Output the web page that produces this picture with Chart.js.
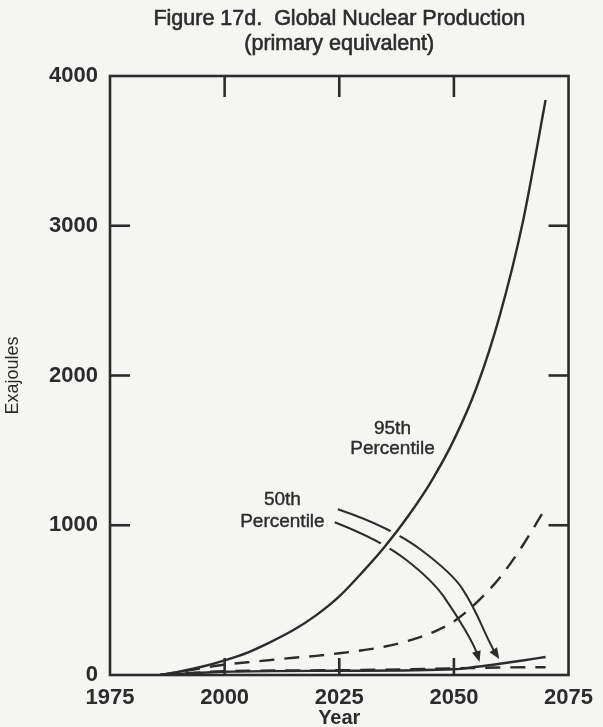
<!DOCTYPE html>
<html>
<head>
<meta charset="utf-8">
<script src="https://cdn.jsdelivr.net/npm/chart.js@4.4.1/dist/chart.umd.min.js"></script>
<style>
  html, body { margin: 0; padding: 0; background: #f5f5f3; }
  canvas { display: block; }
</style>
</head>
<body>
<canvas id="chart" width="603" height="727"></canvas>
<script>
// Global nuclear production, exajoules (primary equivalent)
const yearsUpper   = [1986, 1990, 1995, 2000, 2005, 2010, 2015, 2020, 2025, 2030, 2035, 2040, 2045, 2050, 2055, 2060, 2065, 2070];
const solidUpper   = [0, 22, 55, 98, 150, 220, 300, 400, 525, 685, 860, 1060, 1290, 1570, 1925, 2400, 3020, 3840];
const dashedUpper  = [0, 20, 45, 70, 85, 100, 115, 128, 145, 165, 190, 228, 280, 358, 485, 650, 865, 1115];

const yearsLowerSolid  = [1986, 2000, 2025, 2050, 2055, 2060, 2065, 2070];
const solidLower       = [0, 22, 28, 38, 55, 75, 97, 120];
const yearsLowerDashed = [1986, 2000, 2025, 2050, 2060, 2070];
const dashedLower      = [0, 25, 32, 44, 50, 52];

const xTicks = [1975, 2000, 2025, 2050, 2075];
const yTicks = [0, 1000, 2000, 3000, 4000];

const titleLines = ['Figure 17d.  Global Nuclear Production', '(primary equivalent)'];
const labels95 = ['95th', 'Percentile'];
const labels50 = ['50th', 'Percentile'];

const INK = '#2c2c2c';
const PAPER = '#f5f5f3';
const FONT = "'Liberation Sans', Arial, Helvetica, sans-serif";

const pts = (xs, ys) => xs.map((x, i) => ({ x, y: ys[i] }));

// Callout placement (year, exajoules)
const callouts = {
  label95: { x: 2036.6, y: [1647, 1513] },
  label50: { x: 2012.6, y: [1167, 1020] },
  arrows: [
    [[2024.7, 1107], [2036.3, 987], [2049.6, 680], [2053.9, 480], [2058.2, 187], [2059.9, 107]],
    [[2024.0, 1020], [2034.1, 900], [2045.3, 633], [2050.3, 413], [2054.6, 187], [2055.6, 87]]
  ]
};

const lineStyle = { borderColor: INK, borderWidth: 2.4, pointRadius: 0, fill: false, cubicInterpolationMode: 'monotone' };

const data = {
  datasets: [
    { label: '95th solid', data: pts(yearsUpper, solidUpper), ...lineStyle },
    { label: '95th dashed', data: pts(yearsUpper, dashedUpper), ...lineStyle, borderDash: [15, 10] },
    { label: '50th solid', data: pts(yearsLowerSolid, solidLower), ...lineStyle },
    { label: '50th dashed', data: pts(yearsLowerDashed, dashedLower), ...lineStyle, borderDash: [15, 10] }
  ]
};

// Slightly heavier text, as on the printed page
function inkText(ctx, txt, x, y, weight) {
  ctx.fillText(txt, x, y);
  if (weight) {
    ctx.lineWidth = weight;
    ctx.strokeStyle = INK;
    ctx.strokeText(txt, x, y);
  }
}

// Page background
const paper = {
  id: 'paper',
  beforeDraw(chart) {
    const { ctx, width, height } = chart;
    ctx.save();
    ctx.fillStyle = PAPER;
    ctx.fillRect(0, 0, width, height);
    ctx.restore();
  }
};

// Two-line heading centred over the plot area
const heading = {
  id: 'heading',
  afterDraw(chart) {
    const { ctx, chartArea: a } = chart;
    const cx = (a.left + a.right) / 2;
    ctx.save();
    ctx.fillStyle = INK;
    ctx.textAlign = 'center';
    ctx.textBaseline = 'middle';
    ctx.font = `21.5px ${FONT}`;
    inkText(ctx, titleLines[0], cx, 19, 0.6);
    inkText(ctx, titleLines[1], cx, 44, 0.6);
    ctx.restore();
  }
};

// Closed frame with inward tick marks on all four sides
const frame = {
  id: 'frame',
  afterDraw(chart) {
    const { ctx, chartArea: a, scales: { x, y } } = chart;
    ctx.save();
    ctx.strokeStyle = INK;
    ctx.lineWidth = 2.6;
    ctx.lineCap = 'butt';
    ctx.strokeRect(a.left, a.top, a.right - a.left, a.bottom - a.top);
    const seg = (x1, y1, x2, y2) => { ctx.beginPath(); ctx.moveTo(x1, y1); ctx.lineTo(x2, y2); ctx.stroke(); };
    x.ticks.forEach(t => {
      if (t.value <= x.min || t.value >= x.max) return;
      const px = x.getPixelForValue(t.value);
      seg(px, a.bottom, px, a.bottom - 17);
      seg(px, a.top, px, a.top + 21);
    });
    y.ticks.forEach(t => {
      if (t.value <= y.min || t.value >= y.max) return;
      const py = y.getPixelForValue(t.value);
      seg(a.left, py, a.left + 20, py);
      seg(a.right, py, a.right - 20, py);
    });
    ctx.restore();
  }
};

// Percentile labels and curved pointer arrows
const pointers = {
  id: 'pointers',
  beforeDatasetsDraw(chart) {
    const { ctx, scales: { x, y } } = chart;
    ctx.save();
    ctx.strokeStyle = INK;
    ctx.fillStyle = INK;
    ctx.lineWidth = 2;
    callouts.arrows.forEach(path => {
      const p = path.map(([vx, vy]) => [x.getPixelForValue(vx), y.getPixelForValue(vy)]);
      ctx.beginPath();
      ctx.moveTo(p[0][0], p[0][1]);
      for (let i = 1; i < p.length - 1; i++) {
        const mx = (p[i][0] + p[i + 1][0]) / 2, my = (p[i][1] + p[i + 1][1]) / 2;
        ctx.quadraticCurveTo(p[i][0], p[i][1], mx, my);
      }
      const end = p[p.length - 1], prev = p[p.length - 2];
      const ang = Math.atan2(end[1] - prev[1], end[0] - prev[0]);
      const len = 11, half = 4.5;
      const bx = end[0] - len * Math.cos(ang), by = end[1] - len * Math.sin(ang);
      ctx.lineTo(bx, by);
      ctx.stroke();
      ctx.beginPath();
      ctx.moveTo(end[0], end[1]);
      ctx.lineTo(bx + half * Math.sin(ang), by - half * Math.cos(ang));
      ctx.lineTo(bx - half * Math.sin(ang), by + half * Math.cos(ang));
      ctx.closePath();
      ctx.fill();
    });
    // break the pointers where the 95th percentile curve passes over them
    const meta = chart.getDatasetMeta(0);
    const cx1 = x.getPixelForValue(2030), cx2 = x.getPixelForValue(2045);
    const cy1 = y.getPixelForValue(1300), cy2 = y.getPixelForValue(750);
    ctx.beginPath();
    ctx.rect(cx1, cy1, cx2 - cx1, cy2 - cy1);
    ctx.clip();
    ctx.beginPath();
    meta.dataset.path(ctx);
    ctx.strokeStyle = PAPER;
    ctx.lineWidth = 10;
    ctx.stroke();
    ctx.restore();
  },
  afterDatasetsDraw(chart) {
    const { ctx, scales: { x, y } } = chart;
    ctx.save();
    ctx.fillStyle = INK;
    ctx.textAlign = 'center';
    ctx.textBaseline = 'middle';
    ctx.font = `19px ${FONT}`;
    [[callouts.label95, labels95], [callouts.label50, labels50]].forEach(([pos, lines]) => {
      lines.forEach((txt, i) => inkText(ctx, txt, x.getPixelForValue(pos.x), y.getPixelForValue(pos.y[i]), 0.4));
    });
    ctx.restore();
  }
};

new Chart(document.getElementById('chart'), {
  type: 'line',
  data,
  plugins: [paper, heading, frame, pointers],
  options: {
    responsive: false,
    animation: false,
    layout: { padding: { top: 76, right: 28, left: 0, bottom: 0 } },
    plugins: { legend: { display: false }, tooltip: { enabled: false }, title: { display: false } },
    scales: {
      x: {
        type: 'linear',
        min: xTicks[0],
        max: xTicks[xTicks.length - 1],
        afterBuildTicks: s => { s.ticks = xTicks.map(v => ({ value: v })); },
        afterFit: s => { s.height = 52; },
        grid: { display: false, drawTicks: false },
        border: { display: false },
        ticks: { color: INK, padding: 10, maxRotation: 0, font: { family: FONT, size: 22, weight: 'bold' }, callback: v => String(v) },
        title: { display: true, text: 'Year', color: INK, padding: { top: 0, bottom: -3 }, font: { family: FONT, size: 20, weight: 'bold' } }
      },
      y: {
        min: yTicks[0],
        max: yTicks[yTicks.length - 1],
        afterBuildTicks: s => { s.ticks = yTicks.map(v => ({ value: v })); },
        afterFit: s => { s.width = 110; },
        grid: { display: false, drawTicks: false },
        border: { display: false },
        ticks: { color: INK, padding: 12, font: { family: FONT, size: 22, weight: 'bold' }, callback: v => String(v) },
        title: { display: true, text: 'Exajoules', color: INK, padding: { top: 2, bottom: 0 }, font: { family: FONT, size: 18 } }
      }
    }
  }
});
</script>
</body>
</html>
